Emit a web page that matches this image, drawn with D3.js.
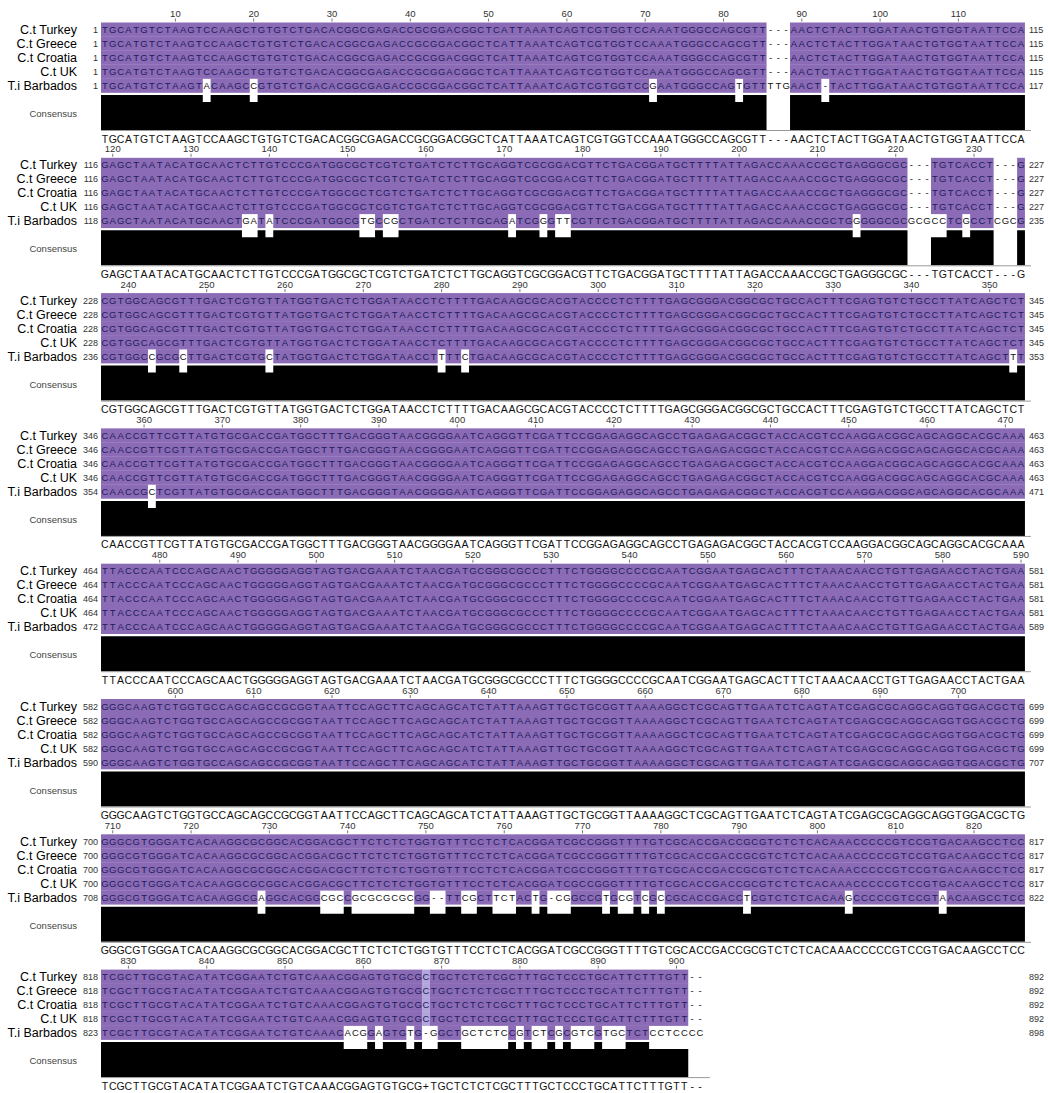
<!DOCTYPE html>
<html>
<head>
<meta charset="utf-8">
<script src="https://cdn.jsdelivr.net/npm/d3@7/dist/d3.min.js"></script>
<style>
  body { margin: 0; background: #fff; }
  text { font-family: "Liberation Sans", Arial, sans-serif; }
</style>
</head>
<body>
<svg id="chart" width="1048" height="1093"></svg>
<script>
// --- alignment data, one string per wrapped block ---
const seqNames = ["C.t Turkey", "C.t Greece", "C.t Croatia", "C.t UK", "T.i Barbados"];

const consensusLines = [
  "TGCATGTCTAAGTCCAAGCTGTGTCTGACACGGCGAGACCGCGGACGGCTCATTAAATCAGTCGTGGTCCAAATGGGCCAGCGTT---AACTCTACTTGGATAACTGTGGTAATTCCA",
  "GAGCTAATACATGCAACTCTTGTCCCGATGGCGCTCGTCTGATCTCTTGCAGGTCGCGGACGTTCTGACGGATGCTTTTATTAGACCAAACCGCTGAGGGCGC---TGTCACCT---G",
  "CGTGGCAGCGTTTGACTCGTGTTATGGTGACTCTGGATAACCTCTTTTGACAAGCGCACGTACCCCTCTTTTGAGCGGGACGGCGCTGCCACTTTCGAGTGTCTGCCTTATCAGCTCT",
  "CAACCGTTCGTTATGTGCGACCGATGGCTTTGACGGGTAACGGGGAATCAGGGTTCGATTCCGGAGAGGCAGCCTGAGAGACGGCTACCACGTCCAAGGACGGCAGCAGGCACGCAAA",
  "TTACCCAATCCCAGCAACTGGGGGAGGTAGTGACGAAATCTAACGATGCGGGCGCCCTTTCTGGGGCCCCGCAATCGGAATGAGCACTTTCTAAACAACCTGTTGAGAACCTACTGAA",
  "GGGCAAGTCTGGTGCCAGCAGCCGCGGTAATTCCAGCTTCAGCAGCATCTATTAAAGTTGCTGCGGTTAAAAGGCTCGCAGTTGAATCTCAGTATCGAGCGCAGGCAGGTGGACGCTG",
  "GGGCGTGGGATCACAAGGCGCGGCACGGACGCTTCTCTCTGGTGTTTCCTCTCACGGATCGCCGGGTTTTGTCGCACCGACCGCGTCTCTCACAAACCCCCGTCCGTGACAAGCCTCC",
  "TCGCTTGCGTACATATCGGAATCTGTCAAACGGAGTGTGCG+TGCTCTCTCGCTTTGCTCCCTGCATTCTTTGTT--"
];

// the four C.t isolates are identical
const ctLines = [
  "TGCATGTCTAAGTCCAAGCTGTGTCTGACACGGCGAGACCGCGGACGGCTCATTAAATCAGTCGTGGTCCAAATGGGCCAGCGTT---AACTCTACTTGGATAACTGTGGTAATTCCA",
  "GAGCTAATACATGCAACTCTTGTCCCGATGGCGCTCGTCTGATCTCTTGCAGGTCGCGGACGTTCTGACGGATGCTTTTATTAGACCAAACCGCTGAGGGCGC---TGTCACCT---G",
  "CGTGGCAGCGTTTGACTCGTGTTATGGTGACTCTGGATAACCTCTTTTGACAAGCGCACGTACCCCTCTTTTGAGCGGGACGGCGCTGCCACTTTCGAGTGTCTGCCTTATCAGCTCT",
  "CAACCGTTCGTTATGTGCGACCGATGGCTTTGACGGGTAACGGGGAATCAGGGTTCGATTCCGGAGAGGCAGCCTGAGAGACGGCTACCACGTCCAAGGACGGCAGCAGGCACGCAAA",
  "TTACCCAATCCCAGCAACTGGGGGAGGTAGTGACGAAATCTAACGATGCGGGCGCCCTTTCTGGGGCCCCGCAATCGGAATGAGCACTTTCTAAACAACCTGTTGAGAACCTACTGAA",
  "GGGCAAGTCTGGTGCCAGCAGCCGCGGTAATTCCAGCTTCAGCAGCATCTATTAAAGTTGCTGCGGTTAAAAGGCTCGCAGTTGAATCTCAGTATCGAGCGCAGGCAGGTGGACGCTG",
  "GGGCGTGGGATCACAAGGCGCGGCACGGACGCTTCTCTCTGGTGTTTCCTCTCACGGATCGCCGGGTTTTGTCGCACCGACCGCGTCTCTCACAAACCCCCGTCCGTGACAAGCCTCC",
  "TCGCTTGCGTACATATCGGAATCTGTCAAACGGAGTGTGCGCTGCTCTCTCGCTTTGCTCCCTGCATTCTTTGTT--"
];

const barbadosLines = [
  "TGCATGTCTAAGTACAAGCCGTGTCTGACACGGCGAGACCGCGGACGGCTCATTAAATCAGTCGTGGTCCGAATGGGCCAGTGTTTTGAACT-TACTTGGATAACTGTGGTAATTCCA",
  "GAGCTAATACATGCAACTGATATCCCGATGGCGTGCCGCTGATCTCTTGCAGATCGGGTTCGTTCTGACGGATGCTTTTATTAGACCAAACCGCTGGGGGCGCGCGCCTCGCCTCGCG",
  "CGTGGCCGCGCTTGACTCGTGCTATGGTGACTCTGGATAACCTTTTCTGACAAGCGCACGTACCCCTCTTTTGAGCGGGACGGCGCTGCCACTTTCGAGTGTCTGCCTTATCAGCTTT",
  "CAACCGCTCGTTATGTGCGACCGATGGCTTTGACGGGTAACGGGGAATCAGGGTTCGATTCCGGAGAGGCAGCCTGAGAGACGGCTACCACGTCCAAGGACGGCAGCAGGCACGCAAA",
  "TTACCCAATCCCAGCAACTGGGGGAGGTAGTGACGAAATCTAACGATGCGGGCGCCCTTTCTGGGGCCCCGCAATCGGAATGAGCACTTTCTAAACAACCTGTTGAGAACCTACTGAA",
  "GGGCAAGTCTGGTGCCAGCAGCCGCGGTAATTCCAGCTTCAGCAGCATCTATTAAAGTTGCTGCGGTTAAAAGGCTCGCAGTTGAATCTCAGTATCGAGCGCAGGCAGGTGGACGCTG",
  "GGGCGTGGGATCACAAGGCGAGGCACGGCGCCGCGCGCGCGG--TTCGCTTCTACTG-CGGCCGTGCGTCGCCGCACCGACCTCGTCTCTCACAAGCCCCCGTCCGTAACAAGCCTCC",
  "TCGCTTGCGTACATATCGGAATCTGTCAAACACGGAGTGTG-GGCTGCTCTCCGTCTCGCGTCGTGCTCTCCTCCCC"
];

const ctStart = [1, 116, 228, 346, 464, 582, 700, 818];
const ctEnd   = [115, 227, 345, 463, 581, 699, 817, 892];
const tiStart = [1, 118, 236, 354, 472, 590, 708, 823];
const tiEnd   = [117, 235, 353, 471, 589, 707, 822, 898];

// --- layout ---
const COLS = 118;
const PITCH = 7.83;
const X0 = 101;
const BLOCK_H = 135.3;
const NAME_RIGHT = 77;
const NUM_RIGHT = 98;
const END_NUM_X = 1029;

const PURPLE = "#8c6bb6";
const LAVENDER = "#b3a6dc";
const LETTER_ON = "#1c1d5a";

const svg = d3.select("#chart");

const x = d3.scaleLinear().domain([0, COLS]).range([X0, X0 + COLS * PITCH]);
const yRow = d3.scaleBand().domain(seqNames).range([22.5, 92.5]);
const yBar = d3.scaleLinear().domain([0, 1]).range([130, 95]);

function rowsFor(b) {
  return [ctLines[b], ctLines[b], ctLines[b], ctLines[b], barbadosLines[b]];
}

// merge neighbouring cells of the same colour into runs, avoids hairline seams
function runs(cells, colorOf) {
  const out = [];
  cells.forEach(d => {
    const c = colorOf(d);
    const last = out[out.length - 1];
    if (c && last && last.color === c && last.end === d.i) last.end = d.i + 1;
    else if (c) out.push({ start: d.i, end: d.i + 1, color: c });
  });
  return out;
}

consensusLines.forEach((cons, b) => {
  const g = svg.append("g").attr("transform", `translate(0, ${b * BLOCK_H})`);
  const rows = rowsFor(b);
  const nCols = cons.length;
  const firstCol = b * COLS + 1;

  // ruler
  const ticks = d3.range(nCols).filter(i => (firstCol + i) % 10 === 0);
  const ruler = g.append("g");
  ruler.selectAll("text").data(ticks).join("text")
    .attr("x", i => x(i + 0.5))
    .attr("y", 17)
    .attr("text-anchor", "middle")
    .style("font-size", "9.5px")
    .attr("fill", "#333")
    .text(i => firstCol + i);
  ruler.selectAll("line").data(ticks).join("line")
    .attr("x1", i => x(i + 0.5)).attr("x2", i => x(i + 0.5))
    .attr("y1", 18.5).attr("y2", 21.5)
    .attr("stroke", "#777").attr("stroke-width", 1);

  // sequence rows
  rows.forEach((seq, r) => {
    const name = seqNames[r];
    const rg = g.append("g");
    const cells = seq.split("").map((ch, i) => ({ ch, i, cons: cons[i] }));
    const agrees = d => d.ch !== "-" && (d.ch === d.cons || d.cons === "+");

    rg.selectAll("rect").data(runs(cells, d => agrees(d) ? (d.cons === "+" ? LAVENDER : PURPLE) : null))
      .join("rect")
      .attr("x", d => x(d.start))
      .attr("y", yRow(name))
      .attr("width", d => x(d.end) - x(d.start))
      .attr("height", yRow.bandwidth() + 0.3)
      .attr("fill", d => d.color);

    rg.selectAll("text").data(cells).join("text")
      .attr("x", d => x(d.i + 0.5))
      .attr("y", yRow(name) + yRow.bandwidth() / 2 + 3.5)
      .attr("text-anchor", "middle")
      .style("font-size", "9.5px")
      .attr("fill", d => agrees(d) ? LETTER_ON : "#111")
      .text(d => d.ch);

    // names and residue numbers
    g.append("text")
      .attr("x", NAME_RIGHT).attr("y", yRow(name) + yRow.bandwidth() / 2 + 4.5)
      .attr("text-anchor", "end")
      .style("font-size", "12.5px")
      .attr("fill", "#000")
      .text(name);
    const isTi = r === 4;
    g.append("text")
      .attr("x", NUM_RIGHT).attr("y", yRow(name) + yRow.bandwidth() / 2 + 3.5)
      .attr("text-anchor", "end")
      .style("font-size", "9px")
      .attr("fill", "#333")
      .text(isTi ? tiStart[b] : ctStart[b]);
    g.append("text")
      .attr("x", END_NUM_X).attr("y", yRow(name) + yRow.bandwidth() / 2 + 3.5)
      .style("font-size", "9px")
      .attr("fill", "#333")
      .text(isTi ? tiEnd[b] : ctEnd[b]);
  });

  // identity graph: share of sequences that agree with the consensus
  const ident = cons.split("").map((c, i) => {
    if (c === "-") return 0;
    if (c === "+") return 0.8;
    return rows.filter(s => s[i] === c).length / rows.length;
  });
  const area = d3.area()
    .x(d => x(d.i))
    .y0(yBar(0))
    .y1(d => yBar(d.v))
    .curve(d3.curveStepAfter);
  const pts = ident.map((v, i) => ({ i, v }));
  pts.push({ i: nCols, v: ident[nCols - 1] });
  g.append("path").datum(pts).attr("d", area).attr("fill", "#000");
  g.append("line")
    .attr("x1", x(0)).attr("x2", x(nCols) + 6)
    .attr("y1", yBar(0) + 0.5).attr("y2", yBar(0) + 0.5)
    .attr("stroke", "#999").attr("stroke-width", 1);

  g.append("text")
    .attr("x", NAME_RIGHT).attr("y", 117)
    .attr("text-anchor", "end")
    .style("font-size", "9.5px")
    .attr("fill", "#444")
    .text("Consensus");

  // consensus sequence
  g.append("g").selectAll("text").data(cons.split("")).join("text")
    .attr("x", (d, i) => x(i + 0.5))
    .attr("y", 142.5)
    .attr("text-anchor", "middle")
    .style("font-size", "10.5px")
    .attr("fill", "#111")
    .text(d => d);
});
</script>
</body>
</html>
